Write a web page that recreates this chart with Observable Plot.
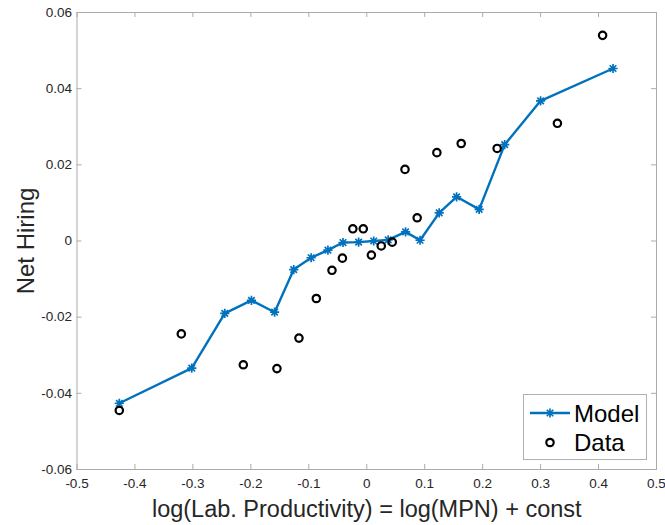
<!DOCTYPE html>
<html>
<head>
<meta charset="utf-8">
<script src="https://cdn.jsdelivr.net/npm/d3@7"></script>
<script src="https://cdn.jsdelivr.net/npm/@observablehq/plot@0.6"></script>
<style>
  html, body { margin: 0; padding: 0; background: #fff; }
  #wrap { position: relative; width: 665px; height: 525px; font-family: "Liberation Sans", Arial, Helvetica, sans-serif; }
  #legend { position: absolute; left: 522.5px; top: 394px; width: 122px; height: 64px; background: #fff; border: 1px solid #b0b0b0; }
  #legend svg { position: absolute; left: 0; top: 0; }
</style>
</head>
<body>
<div id="wrap"><div id="legend"></div></div>
<script>
// Model (blue line with * markers)
const modelX = [-0.427, -0.302, -0.245, -0.199, -0.159, -0.126, -0.096, -0.067, -0.041, -0.014, 0.012, 0.037, 0.067, 0.092, 0.125, 0.155, 0.194, 0.238, 0.300, 0.425];
const modelY = [-0.0426, -0.0334, -0.0190, -0.0156, -0.0187, -0.0075, -0.0044, -0.0024, -0.0004, -0.0003, 0.0000, 0.0003, 0.0024, 0.0002, 0.0074, 0.0116, 0.0083, 0.0253, 0.0368, 0.0453];
// Data (black circles)
const dataX = [-0.427, -0.320, -0.213, -0.155, -0.117, -0.087, -0.060, -0.042, -0.024, -0.006, 0.008, 0.025, 0.044, 0.066, 0.087, 0.121, 0.163, 0.225, 0.329, 0.407];
const dataY = [-0.0445, -0.0244, -0.0325, -0.0335, -0.0255, -0.0151, -0.0077, -0.0045, 0.0032, 0.0032, -0.0037, -0.0013, -0.0003, 0.0188, 0.0061, 0.0232, 0.0256, 0.0243, 0.0309, 0.0540];
// Axes
const xTicks = [-0.5, -0.4, -0.3, -0.2, -0.1, 0, 0.1, 0.2, 0.3, 0.4, 0.5];
const yTicks = [-0.06, -0.04, -0.02, 0, 0.02, 0.04, 0.06];
const xDomain = [-0.5, 0.5];
const yDomain = [-0.06, 0.06];
const xLabel = "log(Lab. Productivity) = log(MPN) + const";
const yLabel = "Net Hiring";
const seriesNames = ["Model", "Data"];

const model = modelX.map((x, i) => ({x, y: modelY[i]}));
const data = dataX.map((x, i) => ({x, y: dataY[i]}));

const blue = "#0072BD";
const axisColor = "#ababab";
const textColor = "#262626";
const font = "'Liberation Sans', Arial, Helvetica, sans-serif";

// MATLAB-style '*' marker: plus + times
const matlabStar = {
  draw(ctx, size) {
    const r = Math.sqrt(size / Math.PI);
    const d = r * Math.SQRT1_2;
    ctx.moveTo(-r, 0); ctx.lineTo(r, 0);
    ctx.moveTo(0, -r); ctx.lineTo(0, r);
    ctx.moveTo(-d, -d); ctx.lineTo(d, d);
    ctx.moveTo(-d, d); ctx.lineTo(d, -d);
  }
};

const W = 665, H = 525, mL = 76.5, mR = 9, mT = 12, mB = 56;
const innerH = H - mT - mB;
const innerW = W - mL - mR;
const tickLen = 5;

const chart = Plot.plot({
  width: W,
  height: H,
  marginLeft: mL,
  marginRight: mR,
  marginTop: mT,
  marginBottom: mB,
  style: {fontFamily: font, color: textColor, background: "#fff", overflow: "visible"},
  x: {domain: xDomain, axis: null},
  y: {domain: yDomain, axis: null},
  marks: [
    // inward ticks (bottom, top, left, right)
    Plot.gridX(xTicks, {stroke: axisColor, strokeOpacity: 1, insetTop: innerH - tickLen}),
    Plot.gridX(xTicks, {stroke: axisColor, strokeOpacity: 1, insetBottom: innerH - tickLen}),
    Plot.gridY(yTicks, {stroke: axisColor, strokeOpacity: 1, insetRight: innerW - tickLen}),
    Plot.gridY(yTicks, {stroke: axisColor, strokeOpacity: 1, insetLeft: innerW - tickLen}),
    Plot.frame({stroke: axisColor}),
    Plot.axisX(xTicks, {tickSize: 0, tickPadding: 9, fontSize: 13.5, fill: textColor, tickFormat: d => String(d), label: null}),
    Plot.axisY(yTicks, {tickSize: 0, tickPadding: 5, fontSize: 13.5, fill: textColor, tickFormat: d => String(d), label: null}),
    Plot.text([xLabel], {frameAnchor: "bottom", dy: 39.5, fontSize: 23.5, fill: textColor, textAnchor: "middle", lineAnchor: "middle"}),
    Plot.text([yLabel], {frameAnchor: "left", dx: -51, rotate: -90, fontSize: 24, fill: textColor, textAnchor: "middle", lineAnchor: "middle"}),
    Plot.line(model, {x: "x", y: "y", stroke: blue, strokeWidth: 2.4}),
    Plot.dot(model, {x: "x", y: "y", symbol: matlabStar, r: 4.6, stroke: blue, fill: "none", strokeWidth: 1.7}),
    Plot.dot(data, {x: "x", y: "y", symbol: "circle", r: 3.7, stroke: "#000", fill: "none", strokeWidth: 2.2})
  ]
});

const wrap = document.getElementById("wrap");
wrap.insertBefore(chart, wrap.firstChild);

// Legend
const lg = d3.select("#legend").append("svg").attr("width", 122).attr("height", 64);
lg.append("line").attr("x1", 6).attr("x2", 46).attr("y1", 18).attr("y2", 18)
  .attr("stroke", blue).attr("stroke-width", 2.4);
lg.append("path").attr("transform", "translate(26,18)")
  .attr("d", (() => { const p = d3.path(); matlabStar.draw(p, Math.PI * 4.6 * 4.6); return p.toString(); })())
  .attr("stroke", blue).attr("stroke-width", 1.7).attr("fill", "none");
lg.append("circle").attr("cx", 26).attr("cy", 47.5).attr("r", 3.7)
  .attr("stroke", "#000").attr("stroke-width", 2.2).attr("fill", "none");
lg.selectAll("text.lab").data(seriesNames).join("text").attr("class", "lab")
  .attr("x", 50).attr("y", (d, i) => 18 + i * 29.5).attr("dy", "0.36em")
  .attr("font-size", 24).attr("font-family", font).attr("fill", "#000")
  .text(d => d);
</script>
</body>
</html>
